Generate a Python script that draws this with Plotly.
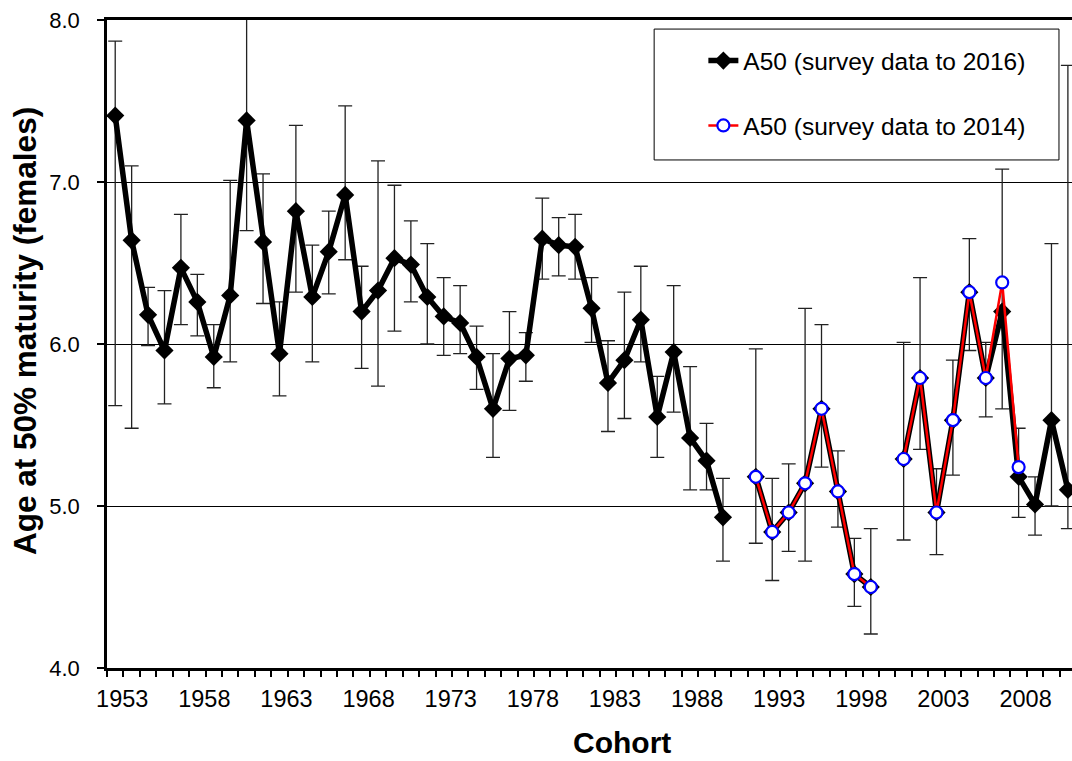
import numpy as np
import plotly.graph_objects as go

years = list(range(1953, 2012))

a50_2016 = [7.41, 6.64, 6.18, 5.96, 6.47, 6.26, 5.92, 6.30, 7.38, 6.63,
            5.94, 6.82, 6.29, 6.57, 6.92, 6.20, 6.33, 6.53, 6.49, 6.29,
            6.17, 6.13, 5.92, 5.60, 5.91, 5.93, 6.65, 6.61, 6.60, 6.22,
            5.76, 5.90, 6.15, 5.55, 5.95, 5.42, 5.28, 4.93, None, 5.18,
            4.84, 4.96, 5.14, 5.60, 5.09, 4.58, 4.50, None, 5.29, 5.79,
            4.96, 5.53, 6.32, 5.79, 6.20, 5.18, 5.01, 5.53, 5.10]

upper_2016 = [7.87, 7.10, 6.35, 6.33, 6.80, 6.43, 6.12, 7.01, 8.05, 7.05,
              6.26, 7.35, 6.61, 6.82, 7.47, 6.48, 7.13, 6.98, 6.76, 6.62,
              6.41, 6.36, 6.11, 5.94, 6.20, 6.07, 6.90, 6.78, 6.80, 6.41,
              6.02, 6.32, 6.48, 5.80, 6.36, 5.86, 5.51, 5.17, None, 5.97,
              5.17, 5.26, 6.22, 6.12, 5.34, 4.80, 4.86, None, 6.01, 6.41,
              5.23, 5.90, 6.65, 6.01, 7.08, 5.48, 5.18, 6.62, 7.72]

lower_2016 = [5.62, 5.48, 5.99, 5.63, 6.12, 6.05, 5.73, 5.89, 6.70, 6.25,
              5.68, 6.32, 5.89, 6.31, 6.52, 5.85, 5.74, 6.08, 6.26, 6.00,
              5.93, 5.94, 5.72, 5.30, 5.59, 5.77, 6.40, 6.42, 6.40, 6.01,
              5.46, 5.54, 5.89, 5.30, 5.58, 5.10, 5.10, 4.66, None, 4.77,
              4.54, 4.72, 4.66, 5.24, 4.87, 4.38, 4.21, None, 4.79, 5.35,
              4.70, 5.19, 5.96, 5.55, 5.60, 4.93, 4.82, 5.00, 4.86]

years_2014 = list(range(1992, 2009))
a50_2014 = [5.18, 4.84, 4.96, 5.14, 5.60, 5.09, 4.58, 4.50, None,
            5.29, 5.79, 4.96, 5.53, 6.32, 5.79, 6.38, 5.24]

label_years = list(range(1953, 2012, 5))
y_ticks = [4, 5, 6, 7, 8]

v = np.array([np.nan if x is None else x for x in a50_2016], dtype=float)
up = np.array([np.nan if x is None else x for x in upper_2016], dtype=float)
lo = np.array([np.nan if x is None else x for x in lower_2016], dtype=float)
err_plus = up - v
err_minus = v - lo

FONT = "Arial, Liberation Sans, sans-serif"

fig = go.Figure()
fig.add_trace(go.Scatter(
    x=years, y=a50_2016, mode="lines+markers", connectgaps=False,
    name="A50 (survey data to 2016)", legendgroup="g1",
    line=dict(color="black", width=5.5),
    marker=dict(symbol="diamond", size=14, color="black"),
    error_y=dict(type="data", symmetric=False, array=err_plus, arrayminus=err_minus,
                 color="#222222", thickness=1.3, width=7),
))
fig.add_trace(go.Scatter(
    x=years_2014, y=a50_2014, mode="lines+markers", connectgaps=False,
    name="A50 (survey data to 2014)", legendgroup="g2",
    line=dict(color="#ff0000", width=2.5),
    marker=dict(symbol="circle", size=12, color="white", line=dict(color="#0000ff", width=2.2)),
))

fig.update_layout(
    width=1072, height=761,
    margin=dict(l=107, r=0, t=20, b=93),
    paper_bgcolor="white", plot_bgcolor="white",
    font=dict(family=FONT, color="black"),
    showlegend=True,
    legend=dict(x=0.618, y=0.972, xanchor="left", yanchor="top",
                bgcolor="rgba(0,0,0,0)", borderwidth=0,
                font=dict(size=24.5, family=FONT, color="black"),
                tracegroupgap=30, traceorder="grouped"),
    shapes=[dict(type="rect", xref="paper", yref="paper",
                 x0=0.567, x1=0.9865, y0=0.784, y1=0.986,
                 line=dict(color="black", width=1), fillcolor="white", layer="below")],
    annotations=[
        dict(text="<b>Cohort</b>", xref="paper", yref="paper", x=0.534, y=-0.1142,
             xanchor="center", yanchor="middle", showarrow=False,
             font=dict(size=30, family=FONT, color="black")),
        dict(text="<b>Age at 50% maturity (females)</b>", xref="paper", yref="paper",
             x=-0.085, y=0.52, xanchor="center", yanchor="middle", textangle=-90,
             showarrow=False, font=dict(size=31.5, family=FONT, color="black")),
    ],
)

fig.update_xaxes(
    range=[1952.5, 2011.25],
    tickmode="array", tickvals=label_years, ticktext=[str(y) for y in label_years],
    ticks="outside", ticklen=0, tickfont=dict(size=23.5, family=FONT, color="black"),
    ticklabelshift=7, ticklabelstandoff=8,
    minor=dict(tickmode="linear", tick0=1952.5, dtick=1, ticks="outside",
               ticklen=6, tickwidth=1.5, tickcolor="black", showgrid=False),
    showline=True, linecolor="black", linewidth=2.5, mirror=True,
    showgrid=False, zeroline=False,
)
fig.update_yaxes(
    range=[4, 8], tickmode="array", tickvals=y_ticks, tickformat=".1f",
    ticks="outside", ticklen=7, tickwidth=1.5, tickcolor="black",
    tickfont=dict(size=22, family=FONT, color="black"), ticklabelstandoff=13,
    showline=True, linecolor="black", linewidth=2.5,
    showgrid=True, gridcolor="black", gridwidth=1.2, zeroline=False,
)

fig.write_html("out.html")
